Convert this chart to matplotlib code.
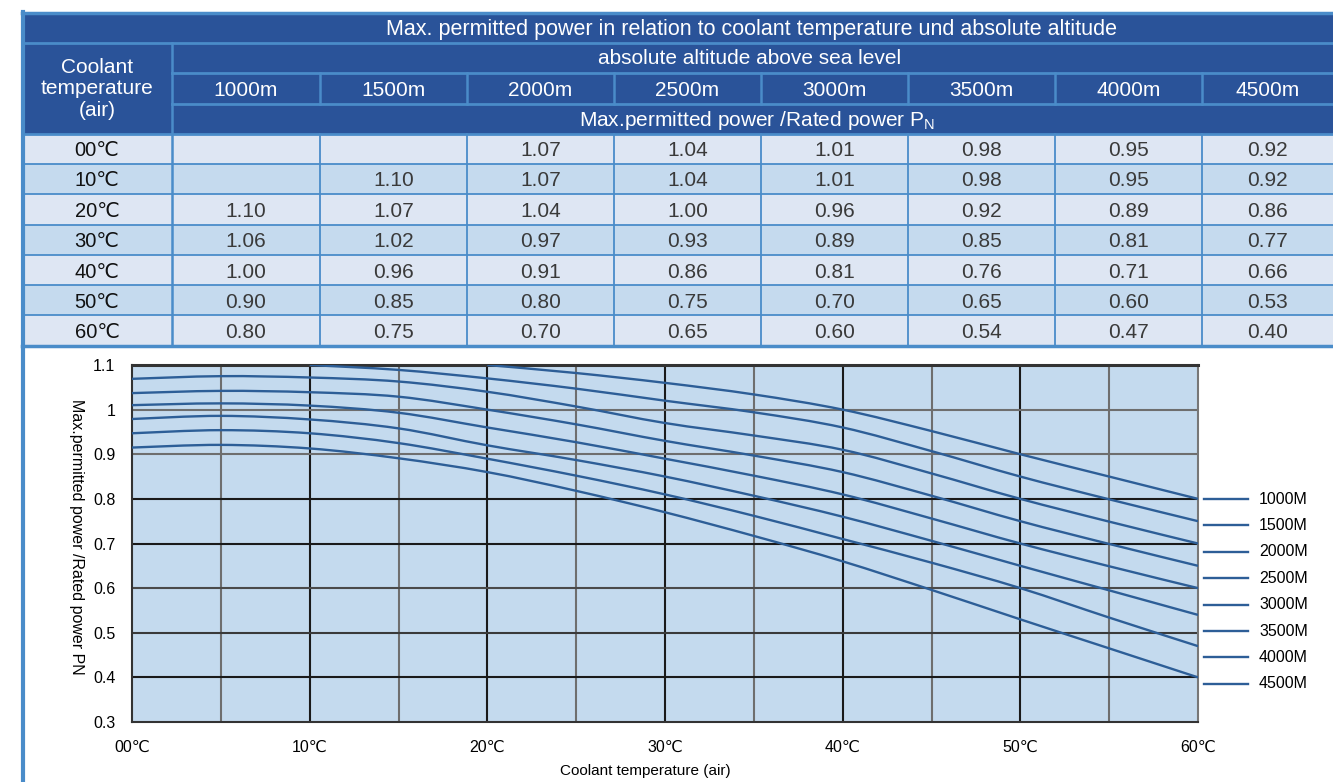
import numpy as np
import matplotlib.pyplot as plt
from matplotlib.patches import Rectangle, PathPatch
from matplotlib.path import Path

nan = np.nan

# chart: coolant temperature (deg C), curves read every 5 deg
temps = [0, 5, 10, 15, 20, 25, 30, 35, 40, 45, 50, 55, 60]
alt_1000 = [nan, nan, nan, nan, 1.10, 1.082, 1.06, 1.034, 1.00, 0.952, 0.90, 0.85, 0.80]
alt_1500 = [nan, nan, 1.10, 1.089, 1.07, 1.047, 1.02, 0.994, 0.96, 0.907, 0.85, 0.799, 0.75]
alt_2000 = [1.069, 1.075, 1.072, 1.063, 1.04, 1.007, 0.97, 0.942, 0.91, 0.857, 0.80, 0.749, 0.70]
alt_2500 = [1.037, 1.042, 1.039, 1.029, 1.00, 0.967, 0.93, 0.897, 0.86, 0.807, 0.75, 0.699, 0.65]
alt_3000 = [1.010, 1.014, 1.009, 0.993, 0.96, 0.927, 0.89, 0.852, 0.81, 0.756, 0.70, 0.649, 0.60]
alt_3500 = [0.979, 0.986, 0.978, 0.958, 0.92, 0.887, 0.85, 0.807, 0.76, 0.706, 0.65, 0.595, 0.54]
alt_4000 = [0.947, 0.954, 0.947, 0.925, 0.89, 0.852, 0.81, 0.762, 0.71, 0.657, 0.60, 0.534, 0.47]
alt_4500 = [0.915, 0.921, 0.913, 0.891, 0.86, 0.818, 0.77, 0.717, 0.66, 0.596, 0.53, 0.465, 0.40]
series = [alt_1000, alt_1500, alt_2000, alt_2500, alt_3000, alt_3500, alt_4000, alt_4500]

# table: one list per altitude column, rows 00..60 deg C
tab_1000 = ['', '', '1.10', '1.06', '1.00', '0.90', '0.80']
tab_1500 = ['', '1.10', '1.07', '1.02', '0.96', '0.85', '0.75']
tab_2000 = ['1.07', '1.07', '1.04', '0.97', '0.91', '0.80', '0.70']
tab_2500 = ['1.04', '1.04', '1.00', '0.93', '0.86', '0.75', '0.65']
tab_3000 = ['1.01', '1.01', '0.96', '0.89', '0.81', '0.70', '0.60']
tab_3500 = ['0.98', '0.98', '0.92', '0.85', '0.76', '0.65', '0.54']
tab_4000 = ['0.95', '0.95', '0.89', '0.81', '0.71', '0.60', '0.47']
tab_4500 = ['0.92', '0.92', '0.86', '0.77', '0.66', '0.53', '0.40']
table_cols = [tab_1000, tab_1500, tab_2000, tab_2500, tab_3000, tab_3500, tab_4000, tab_4500]

altitudes = ['1000m', '1500m', '2000m', '2500m', '3000m', '3500m', '4000m', '4500m']
legend_labels = ['1000M', '1500M', '2000M', '2500M', '3000M', '3500M', '4000M', '4500M']
row_labels = ['00℃', '10℃', '20℃', '30℃', '40℃', '50℃', '60℃']
x_ticks = [0, 10, 20, 30, 40, 50, 60]
x_tick_labels = ['00℃', '10℃', '20℃', '30℃', '40℃', '50℃', '60℃']
y_ticks = [0.3, 0.4, 0.5, 0.6, 0.7, 0.8, 0.9, 1.0, 1.1]
y_tick_labels = ['0.3', '0.4', '0.5', '0.6', '0.7', '0.8', '0.9', '1', '1.1']

HEAD = '#2a5399'
BORD = '#4a8cc9'
ROW_A = '#dee6f3'
ROW_B = '#c5daee'
PLOT_BG = '#c4daee'
CURVE = '#2d5e97'

plt.rcParams['font.family'] = ['Liberation Sans', 'DejaVu Sans']


def smooth_path(xs, ys):
    # cubic bezier segments through the points (catmull-rom tangents)
    pts = np.array([(x, y) for x, y in zip(xs, ys) if not np.isnan(y)], dtype=float)
    n = len(pts)
    verts = [pts[0]]
    codes = [Path.MOVETO]
    for i in range(n - 1):
        p0 = pts[i - 1] if i > 0 else pts[i]
        p1 = pts[i]
        p2 = pts[i + 1]
        p3 = pts[i + 2] if i + 2 < n else pts[i + 1]
        verts += [p1 + (p2 - p0) / 6.0, p2 - (p3 - p1) / 6.0, p2]
        codes += [Path.CURVE4] * 3
    return Path(verts, codes)


fig = plt.figure(figsize=(13.33, 7.82), dpi=100)

# background layer in pixel coordinates for the table
bg = fig.add_axes([0, 0, 1, 1])
bg.set_xlim(0, 1333)
bg.set_ylim(782, 0)
bg.axis('off')

col_x = [22, 172, 320, 467, 614, 761, 908, 1055, 1202, 1333]
row_y = [134, 164, 194, 224.5, 255, 285, 315, 345]

bg.add_patch(Rectangle((22, 12), 1333 - 22, 134 - 12, facecolor=HEAD, linewidth=0))
for i in range(7):
    bg.add_patch(Rectangle((22, row_y[i]), 1333 - 22, row_y[i + 1] - row_y[i],
                           facecolor=ROW_A if i % 2 == 0 else ROW_B, linewidth=0))

# table rules
bg.plot([22, 1333], [12.5, 12.5], color=BORD, lw=2.5)
bg.plot([22, 1333], [43, 43], color=BORD, lw=2)
bg.plot([172, 1333], [73, 73], color=BORD, lw=2)
bg.plot([172, 1333], [103.5, 103.5], color=BORD, lw=2)
bg.plot([22, 1333], [134, 134], color=BORD, lw=2)
for y in row_y[1:-1]:
    bg.plot([22, 1333], [y, y], color=BORD, lw=1.3)
bg.plot([22, 1333], [346, 346], color=BORD, lw=2.5)
bg.plot([172, 172], [43, 346], color=BORD, lw=1.8)
for x in col_x[2:-1]:
    bg.plot([x, x], [73, 103.5], color=BORD, lw=1.8)
    bg.plot([x, x], [134, 346], color=BORD, lw=1.3)
bg.plot([22.5, 22.5], [12, 782], color=BORD, lw=3)

# header texts
bg.text(752, 29, 'Max. permitted power in relation to coolant temperature und absolute altitude',
        color='white', fontsize=15.5, ha='center', va='center')
bg.text(750, 59, 'absolute altitude above sea level', color='white', fontsize=15,
        ha='center', va='center')
bg.text(757, 121, 'Max.permitted power /Rated power P$_\\mathregular{N}$', color='white',
        fontsize=15, ha='center', va='center')
bg.text(97, 89, 'Coolant\ntemperature\n(air)', color='white', fontsize=15,
        ha='center', va='center', linespacing=1.15)
for j, alt in enumerate(altitudes):
    cx = (col_x[j + 1] + col_x[j + 2]) / 2
    bg.text(cx, 90, alt, color='white', fontsize=15, ha='center', va='center')

# table body
for i, lab in enumerate(row_labels):
    cy = (row_y[i] + row_y[i + 1]) / 2 + 2
    bg.text(97, cy, lab, color='#111111', fontsize=14.5, ha='center', va='center')
    for j, col in enumerate(table_cols):
        cx = (col_x[j + 1] + col_x[j + 2]) / 2
        bg.text(cx, cy, col[i], color='#3a3a3a', fontsize=15, ha='center', va='center')

# chart
ax = fig.add_axes([132 / 1333, 60 / 782, 1066 / 1333, 357 / 782])
ax.set_facecolor(PLOT_BG)
ax.set_xlim(0, 60)
ax.set_ylim(0.3, 1.1)

for x in range(5, 60, 5):
    ax.axvline(x, color='#1a1a1a' if x % 10 == 0 else '#6e6e6e', lw=1.5, zorder=1)
h_colors = {0.4: '#1a1a1a', 0.5: '#3a3a3a', 0.6: '#4a4a4a', 0.7: '#1a1a1a',
            0.8: '#1a1a1a', 0.9: '#6e6e6e', 1.0: '#6e6e6e'}
for y, c in h_colors.items():
    ax.axhline(y, color=c, lw=1.5, zorder=1)

for s in series:
    ax.add_patch(PathPatch(smooth_path(temps, s), facecolor='none', edgecolor=CURVE,
                           lw=1.7, zorder=3))

ax.set_xticks(x_ticks)
ax.set_xticklabels(x_tick_labels, fontsize=11.5)
ax.set_yticks(y_ticks)
ax.set_yticklabels(y_tick_labels, fontsize=11.5)
ax.tick_params(length=0, pad=12)
ax.tick_params(axis='x', pad=13)
for side in ['left', 'bottom', 'right']:
    ax.spines[side].set_color('#333333')
    ax.spines[side].set_linewidth(1.5)
ax.spines['right'].set_color('#777777')
ax.spines['top'].set_color('#333333')
ax.spines['top'].set_linewidth(2.2)

bg.text(76, 537, 'Max.permitted power /Rated power PN', rotation=-90, fontsize=11.5,
        ha='center', va='center')
bg.text(645, 771, 'Coolant temperature (air)', fontsize=11, ha='center', va='center')

# legend at the right of the plot
for i, lab in enumerate(legend_labels):
    y = 499 + 26.4 * i
    bg.plot([1204, 1248], [y, y], color=CURVE, lw=1.7)
    bg.text(1259, y, lab, fontsize=11.5, ha='left', va='center')

fig.savefig('out.png', dpi=100)
